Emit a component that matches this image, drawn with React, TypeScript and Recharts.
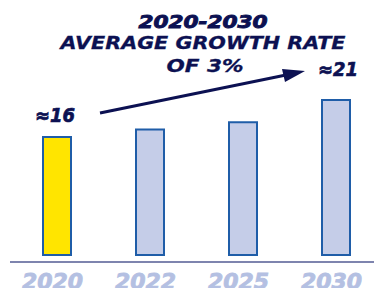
import React from "react";
import { BarChart, Bar, XAxis, YAxis, Cell, LabelList } from "recharts";

const years = ["2020", "2022", "2025", "2030"];
const volumes = [16, 17, 18, 21];
const valueLabels = ["≈16", "", "", "≈21"];

const data = years.map((year, i) => ({ year, volume: volumes[i], label: valueLabels[i] }));

const NAVY = "#0C1152";
const FONT = "'DejaVu Sans', sans-serif";

const YearTick = (props: any) => {
  const { x, y, payload } = props;
  return (
    <text
      x={x - 4}
      y={y + 19}
      textAnchor="middle"
      fontFamily={FONT}
      fontWeight="bold"
      fontStyle="italic"
      fontSize={21}
      fill="#B4C0E2"
      stroke="#B4C0E2"
      strokeWidth={0.8}
      textLength={61}
      lengthAdjust="spacingAndGlyphs"
    >
      {payload.value}
    </text>
  );
};

const ValueLabel = (props: any) => {
  const { x, y, width, value, index } = props;
  if (!value) return null;
  const last = index === data.length - 1;
  return (
    <text
      x={x + width / 2 + (last ? 2 : -2)}
      y={y - (last ? 24 : 15)}
      textAnchor="middle"
      fontFamily={FONT}
      fontWeight="bold"
      fontStyle="italic"
      fontSize={19}
      fill={NAVY}
      stroke={NAVY}
      strokeWidth={0.7}
      textLength={40}
      lengthAdjust="spacingAndGlyphs"
    >
      {value}
    </text>
  );
};

export default function App() {
  return (
    <div style={{ position: "absolute", left: 0, top: 0, width: 374, height: 288, overflow: "hidden", background: "#fff" }}>
      <BarChart width={382} height={288} data={data} margin={{ top: 78, right: 0, left: 10, bottom: 25 }}>
        <YAxis hide domain={[-0.95, 24]} />
        <XAxis
          dataKey="year"
          height={1}
          axisLine={{ stroke: "#7E84AE", strokeWidth: 2 }}
          tickLine={false}
          tick={<YearTick />}
          interval={0}
        />
        <Bar dataKey="volume" barSize={28} stroke="#1F5DA8" strokeWidth={2} isAnimationActive={false}>
          {data.map((d, i) => (
            <Cell key={d.year} fill={i === 0 ? "#FFE500" : "#C5CDE8"} />
          ))}
          <LabelList dataKey="label" content={<ValueLabel />} />
        </Bar>
      </BarChart>
      <svg width={374} height={288} style={{ position: "absolute", left: 0, top: 0, pointerEvents: "none" }}>
        <text x={203} y={28} textAnchor="middle" fontFamily={FONT} fontWeight="bold" fontStyle="italic" fontSize={18} fill={NAVY} stroke={NAVY} strokeWidth={0.9} textLength={129} lengthAdjust="spacingAndGlyphs">
          2020-2030
        </text>
        <text x={203} y={48.5} textAnchor="middle" fontFamily={FONT} fontWeight="bold" fontStyle="italic" fontSize={17} fill={NAVY} stroke={NAVY} strokeWidth={0.3} textLength={285} lengthAdjust="spacingAndGlyphs">
          AVERAGE GROWTH RATE
        </text>
        <text x={205} y={72} textAnchor="middle" fontFamily={FONT} fontWeight="bold" fontStyle="italic" fontSize={18} fill={NAVY} stroke={NAVY} strokeWidth={0.3} textLength={77} lengthAdjust="spacingAndGlyphs">
          OF 3%
        </text>
        <line x1={100} y1={113} x2={286} y2={75} stroke={NAVY} strokeWidth={3} />
        <polygon points="305,71 282,69 285,82" fill={NAVY} />
      </svg>
    </div>
  );
}
